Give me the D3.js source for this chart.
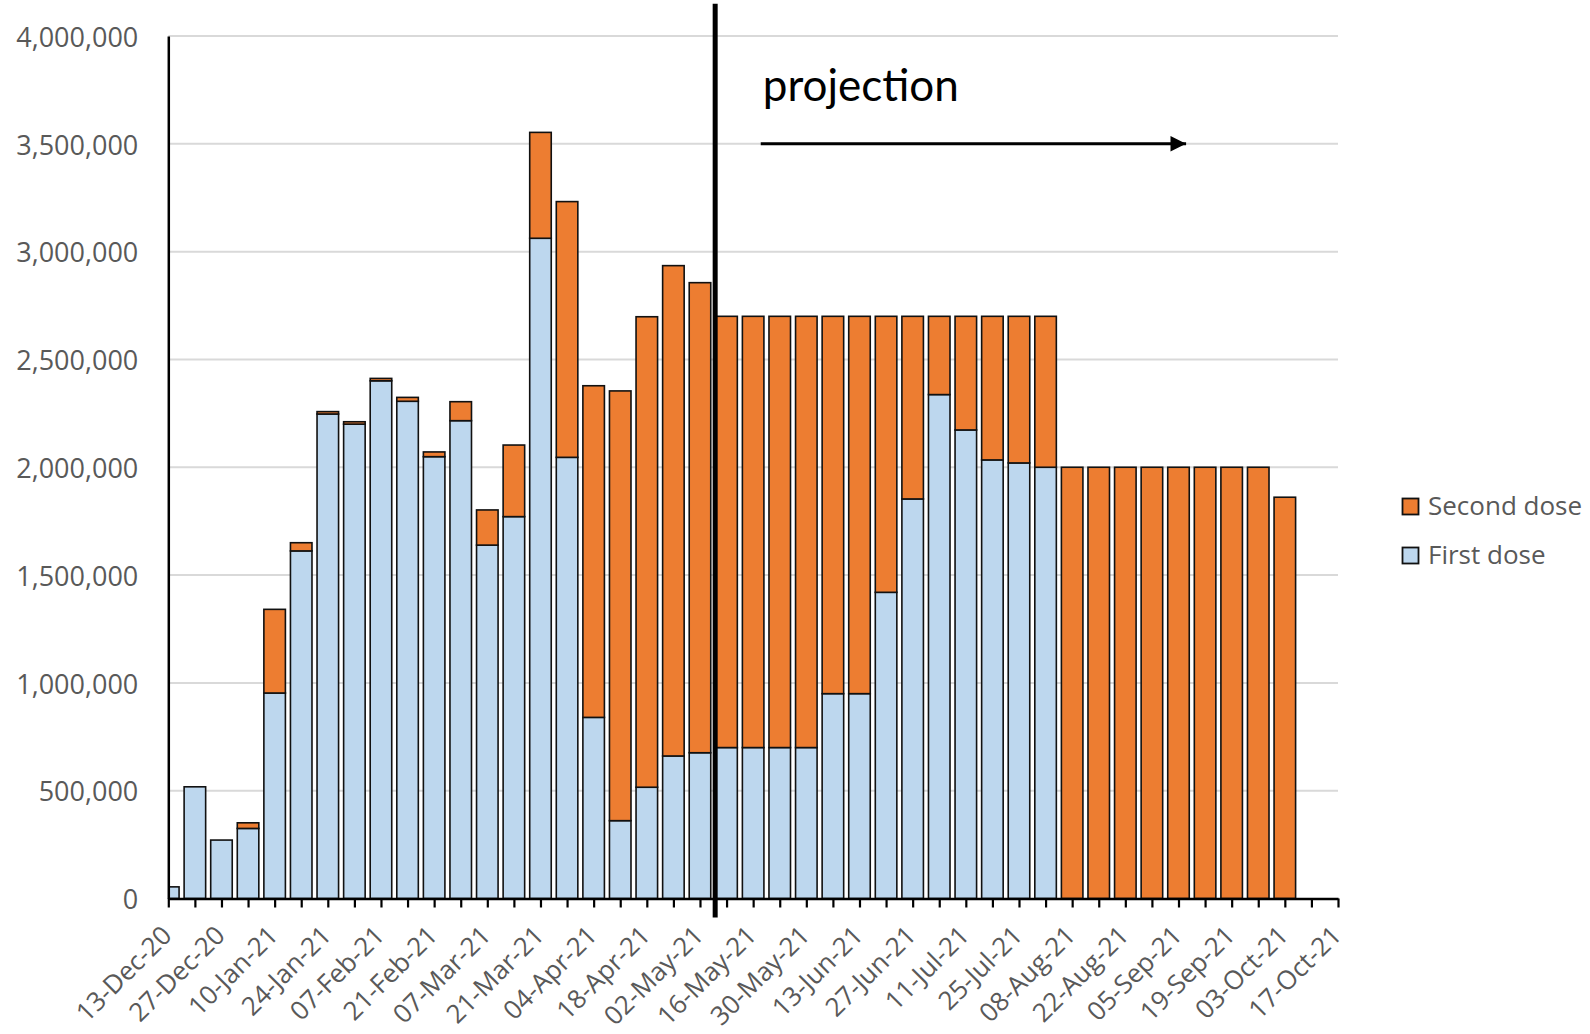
<!DOCTYPE html>
<html>
<head>
<meta charset="utf-8">
<script src="https://cdn.jsdelivr.net/npm/d3@7"></script>
<style>
  html, body { margin: 0; padding: 0; background: #fff; }
  svg { display: block; }
</style>
</head>
<body>
<svg id="chart" width="1590" height="1034"></svg>
<script>
// ---- DATA ----
const weeks = [
  "2020-12-13","2020-12-20","2020-12-27","2021-01-03","2021-01-10","2021-01-17","2021-01-24","2021-01-31",
  "2021-02-07","2021-02-14","2021-02-21","2021-02-28","2021-03-07","2021-03-14","2021-03-21","2021-03-28",
  "2021-04-04","2021-04-11","2021-04-18","2021-04-25","2021-05-02","2021-05-09","2021-05-16","2021-05-23",
  "2021-05-30","2021-06-06","2021-06-13","2021-06-20","2021-06-27","2021-07-04","2021-07-11","2021-07-18",
  "2021-07-25","2021-08-01","2021-08-08","2021-08-15","2021-08-22","2021-08-29","2021-09-05","2021-09-12",
  "2021-09-19","2021-09-26","2021-10-03"
];
const firstDose = [
  54000, 518000, 271000, 325000, 953000, 1612000, 2247000, 2200000,
  2401000, 2306000, 2049000, 2216000, 1639000, 1771000, 3062000, 2046000,
  840000, 361000, 516000, 661000, 676000, 700000, 700000, 700000,
  700000, 950000, 950000, 1420000, 1853000, 2337000, 2173000, 2034000,
  2020000, 2000000, 0, 0, 0, 0, 0, 0,
  0, 0, 0
];
const secondDose = [
  0, 0, 0, 26000, 388000, 38000, 11000, 11000,
  11000, 18000, 22000, 88000, 163000, 332000, 491000, 1186000,
  1538000, 1993000, 2182000, 2274000, 2180000, 2000000, 2000000, 2000000,
  2000000, 1750000, 1750000, 1280000, 847000, 363000, 527000, 666000,
  680000, 700000, 2000000, 2000000, 2000000, 2000000, 2000000, 2000000,
  2000000, 2000000, 1861000
];
const seriesNames = ["First dose", "Second dose"];
const tickLabels = [
  "13-Dec-20","27-Dec-20","10-Jan-21","24-Jan-21","07-Feb-21","21-Feb-21","07-Mar-21","21-Mar-21",
  "04-Apr-21","18-Apr-21","02-May-21","16-May-21","30-May-21","13-Jun-21","27-Jun-21","11-Jul-21",
  "25-Jul-21","08-Aug-21","22-Aug-21","05-Sep-21","19-Sep-21","03-Oct-21","17-Oct-21"
];
const yTicks = [0, 500000, 1000000, 1500000, 2000000, 2500000, 3000000, 3500000, 4000000];
const projectionStart = "2021-05-06";
const arrowStart = "2021-05-18";
const arrowEnd = "2021-09-07";
const annotationText = "projection";

// ---- CHART ----
(function () {
const parseISO = d3.timeParse("%Y-%m-%d");
const parseLbl = d3.timeParse("%d-%b-%y");
const fmtLbl = d3.timeFormat("%d-%b-%y");

const svg = d3.select("#chart");
const plotLeft = 168.3, plotRight = 1338, plotTop = 36, plotBottom = 898.5;

const labelDates = tickLabels.map(parseLbl);
const x = d3.scaleTime()
  .domain([labelDates[0], labelDates[labelDates.length - 1]])
  .range([plotLeft, plotRight]);
const y = d3.scaleLinear().domain([0, 4000000]).range([plotBottom, plotTop]);

const colors = { "First dose": "#BDD7EE", "Second dose": "#ED7D31" };
const labelFont = "'Open Sans', 'DejaVu Sans', sans-serif";
const gray = "#595959";

// gridlines
svg.append("g")
  .selectAll("line")
  .data(yTicks.filter(d => d > 0))
  .join("line")
  .attr("x1", plotLeft).attr("x2", plotRight)
  .attr("y1", d => y(d)).attr("y2", d => y(d))
  .attr("stroke", "#d9d9d9").attr("stroke-width", 2);

// bars
const rows = weeks.map((w, i) => ({ date: parseISO(w), "First dose": firstDose[i], "Second dose": secondDose[i] }));
const stack = d3.stack().keys(seriesNames)(rows);
const step = x(parseISO(weeks[1])) - x(parseISO(weeks[0]));
const bw = step * 0.81;

svg.append("clipPath").attr("id", "plotclip")
  .append("rect").attr("x", plotLeft).attr("y", 0).attr("width", plotRight - plotLeft).attr("height", plotBottom + 2);

const barG = svg.append("g").attr("clip-path", "url(#plotclip)");
stack.forEach(layer => {
  barG.append("g")
    .selectAll("rect")
    .data(layer.filter(d => d[1] - d[0] > 0))
    .join("rect")
    .attr("x", d => x(d.data.date) - bw / 2)
    .attr("width", bw)
    .attr("y", d => y(d[1]))
    .attr("height", d => y(d[0]) - y(d[1]))
    .attr("fill", colors[layer.key])
    .attr("stroke", "#111")
    .attr("stroke-width", 1.6);
});

// y axis
const yAxis = svg.append("g")
  .attr("transform", `translate(${plotLeft},0)`)
  .call(d3.axisLeft(y).tickValues(yTicks).tickSize(0).tickPadding(30).tickFormat(d3.format(",")));
yAxis.select(".domain").attr("stroke", "#000").attr("stroke-width", 2.5);
yAxis.selectAll("text")
  .attr("font-family", labelFont).attr("font-size", 27).attr("fill", gray)
  .attr("dy", "0.38em");

// x axis
const allWeeks = d3.timeWeek.range(labelDates[0], d3.timeDay.offset(labelDates[labelDates.length - 1], 1));
const labelSet = new Set(tickLabels);
const xAxis = svg.append("g")
  .attr("transform", `translate(0,${plotBottom})`)
  .call(d3.axisBottom(x).tickValues(allWeeks).tickSize(9).tickSizeOuter(0)
    .tickFormat(d => labelSet.has(fmtLbl(d)) ? fmtLbl(d) : ""));
xAxis.select(".domain").attr("stroke", "#000").attr("stroke-width", 2.5);
xAxis.selectAll(".tick line").attr("stroke", "#000").attr("stroke-width", 2.2);
xAxis.selectAll("text")
  .attr("font-family", labelFont).attr("font-size", 26).attr("fill", gray)
  .attr("text-anchor", "end")
  .attr("y", 0).attr("dy", "0.35em")
  .attr("transform", "translate(-2,32) rotate(-45)");

// projection line
const px = x(parseISO(projectionStart));
svg.append("line")
  .attr("x1", px).attr("x2", px)
  .attr("y1", y(4150000)).attr("y2", plotBottom + 19)
  .attr("stroke", "#000").attr("stroke-width", 5);

// arrow
svg.append("defs").append("marker")
  .attr("id", "arrowhead")
  .attr("viewBox", "0 0 10 10")
  .attr("refX", 10).attr("refY", 5)
  .attr("markerWidth", 5.2).attr("markerHeight", 5.2)
  .attr("markerUnits", "strokeWidth")
  .attr("orient", "auto")
  .append("path").attr("d", "M0,0 L10,5 L0,10 Z").attr("fill", "#000");
svg.append("line")
  .attr("x1", x(parseISO(arrowStart))).attr("x2", x(parseISO(arrowEnd)))
  .attr("y1", y(3500000)).attr("y2", y(3500000))
  .attr("stroke", "#000").attr("stroke-width", 3)
  .attr("marker-end", "url(#arrowhead)");

svg.append("text")
  .attr("x", x(parseISO(arrowStart)) + 2)
  .attr("y", y(3700000))
  .attr("font-family", "Lato, 'Open Sans', sans-serif")
  .attr("font-size", 44)
  .attr("fill", "#000")
  .text(annotationText);

// legend
const legendItems = ["Second dose", "First dose"];
const lg = svg.append("g").attr("transform", "translate(1402,498)");
legendItems.forEach((name, i) => {
  const g = lg.append("g").attr("transform", `translate(0,${i * 49})`);
  g.append("rect").attr("x", 0.5).attr("y", 0.5).attr("width", 16).attr("height", 16)
    .attr("fill", colors[name]).attr("stroke", "#111").attr("stroke-width", 1.8);
  g.append("text").attr("x", 26).attr("y", 17)
    .attr("font-family", labelFont).attr("font-size", 26).attr("fill", gray)
    .text(name);
});
})();
</script>
</body>
</html>
